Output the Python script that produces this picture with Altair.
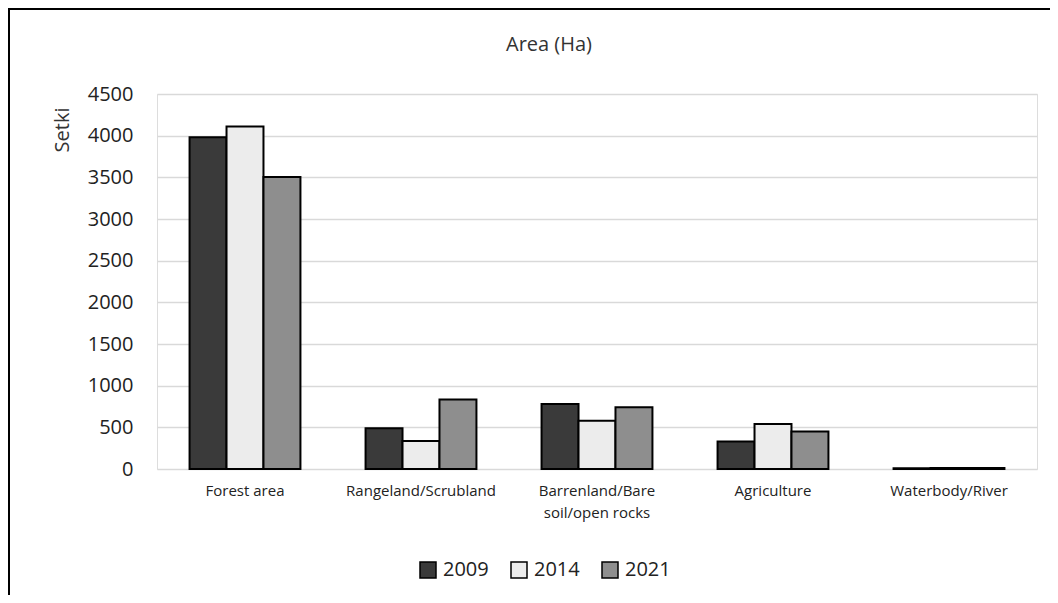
import altair as alt
import pandas as pd

categories = ["Forest area", "Rangeland/Scrubland", "Barrenland/Bare soil/open rocks", "Agriculture", "Waterbody/River"]
years = ["2009", "2014", "2021"]
v2009 = [3980, 490, 780, 330, 10]
v2014 = [4110, 335, 580, 540, 12]
v2021 = [3505, 835, 740, 450, 11]
fills = ["#3a3a3a", "#ececec", "#8e8e8e"]
y_ticks = [0, 500, 1000, 1500, 2000, 2500, 3000, 3500, 4000, 4500]

rows = []
for yr, vals in zip(years, [v2009, v2014, v2021]):
    for c, v in zip(categories, vals):
        rows.append({"Category": c, "Year": yr, "Value": v})
df = pd.DataFrame(rows)

FONT = "Open Sans"
W, H = 880, 375

label_expr = ("datum.label == 'Barrenland/Bare soil/open rocks' ? "
              "['Barrenland/Bare', 'soil/open rocks'] : datum.label")

bars = alt.Chart(df).mark_bar(stroke="black", strokeWidth=2).encode(
    x=alt.X("Category:N", sort=categories,
            scale=alt.Scale(paddingInner=0.37, paddingOuter=0.185),
            axis=alt.Axis(title=None, labelAngle=0, labelExpr=label_expr,
                          labelFontSize=15, labelColor="#222", labelFont=FONT,
                          labelPadding=14, labelLineHeight=22, ticks=False,
                          domain=False, labelBaseline="top")),
    xOffset=alt.XOffset("Year:N", sort=years),
    y=alt.Y("Value:Q", scale=alt.Scale(domain=[0, 4500], nice=False),
            axis=alt.Axis(title=None, values=y_ticks, format="d", labelFontSize=20,
                          labelColor="#222", labelFont=FONT, labelPadding=24,
                          ticks=False, domain=False, gridColor="#d9d9d9",
                          gridWidth=1.5)),
    fill=alt.Fill("Year:N", sort=years,
                  scale=alt.Scale(domain=years, range=fills),
                  legend=alt.Legend(title=None, orient="none", direction="horizontal",
                                    legendX=261, legendY=466, symbolType="square",
                                    symbolSize=256, symbolStrokeColor="black",
                                    symbolStrokeWidth=1.5, labelFontSize=20,
                                    labelFont=FONT, labelColor="#222",
                                    labelOffset=5, columnPadding=19)),
)

one = pd.DataFrame({"t": ["Area (Ha)"]})
title = alt.Chart(one).mark_text(fontSize=20, font=FONT, color="#333",
                                 baseline="middle", align="center").encode(
    x=alt.value(392), y=alt.value(-49), text="t:N")

ylab = alt.Chart(pd.DataFrame({"t": ["Setki"]})).mark_text(
    fontSize=20, font=FONT, color="#333", baseline="middle", align="center",
    angle=270).encode(x=alt.value(-94), y=alt.value(36), text="t:N")

frame_top = alt.Chart(one).mark_rule(color="black", strokeWidth=2).encode(
    x=alt.value(-148), x2=alt.value(900), y=alt.value(-85))
frame_left = alt.Chart(one).mark_rule(color="black", strokeWidth=2).encode(
    x=alt.value(-148), y=alt.value(-86), y2=alt.value(520))

chart = alt.layer(bars, title, ylab, frame_top, frame_left).properties(
    width=W, height=H,
    autosize=alt.AutoSizeParams(type="none"),
    padding={"left": 149, "top": 86, "right": 13, "bottom": 126},
).configure_view(stroke=None).configure(background="white")

chart.save("out.html", embed_options={"renderer": "svg", "actions": False})
